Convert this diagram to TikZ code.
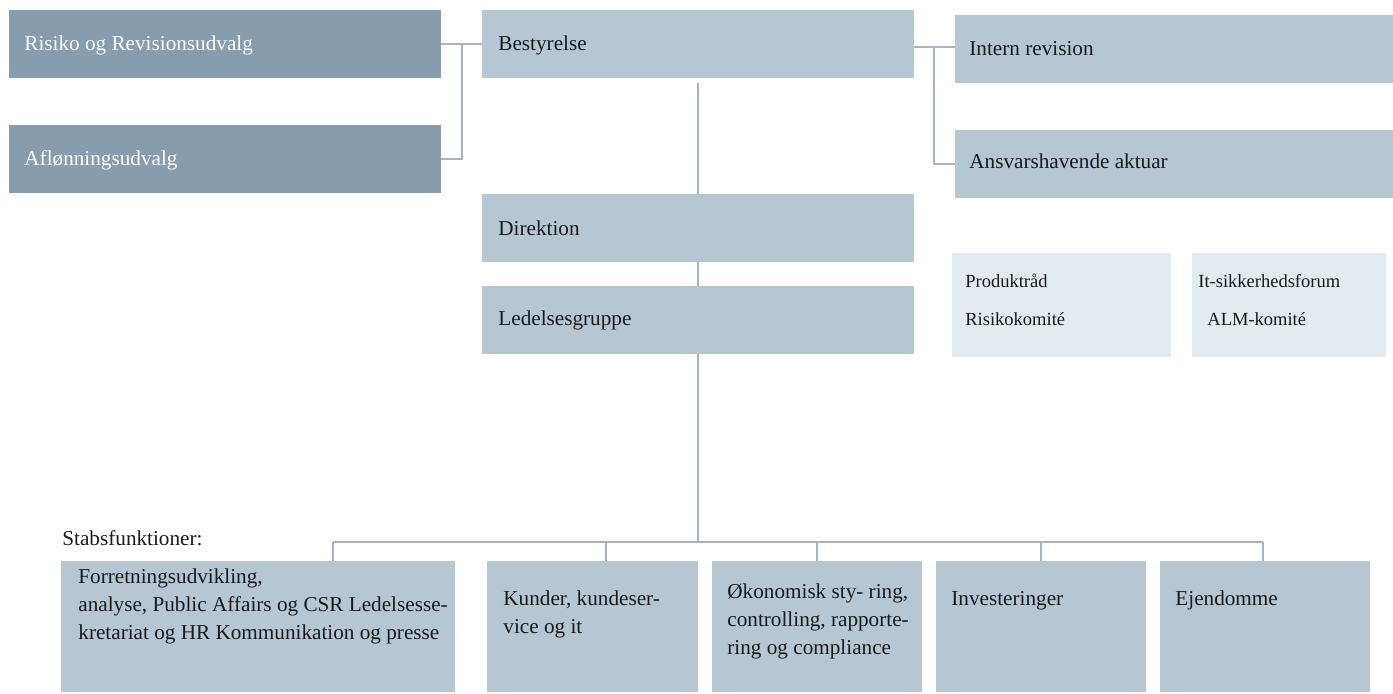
\documentclass[tikz,border=0pt]{standalone}
\usepackage{fontspec}
\setmainfont{Liberation Serif}
\definecolor{moerk}{HTML}{879CAD}
\definecolor{lys}{HTML}{B5C7D3}
\definecolor{bleg}{HTML}{E1EBF0}
\definecolor{streg}{HTML}{A3B5C5}
\tikzset{
  boks/.style={anchor=north west, inner sep=0pt, outer sep=0pt, fill=lys},
  moerkboks/.style={boks, fill=moerk},
  forum/.style={boks, fill=bleg},
  tekst/.style={anchor=base west, inner sep=0pt, align=left, text=black!90,
    font=\fontsize{10.6}{14}\selectfont},
  lille/.style={tekst, font=\fontsize{9.25}{11}\selectfont},
  linje/.style={draw=streg, line width=0.75pt},
}
\begin{document}
\begin{tikzpicture}[x=0.5pt, y=-0.5pt]
  \useasboundingbox (0,0) rectangle (1393,693);
  % udvalg
  \node[moerkboks, minimum width=216pt, minimum height=34pt] (risiko) at (9,10) {};
  \node[moerkboks, minimum width=216pt, minimum height=34pt] (aflon) at (9,125) {};
  \node[tekst, text=white] (trisiko) at (24,50) {Risiko og Revisionsudvalg};
  \node[tekst, text=white] (taflon) at (24,165) {Aflønningsudvalg};
  % midterste kolonne
  \node[boks, minimum width=216pt, minimum height=34pt] (bestyrelse) at (482,10) {};
  \node[boks, minimum width=216pt, minimum height=34pt] (direktion) at (482,194) {};
  \node[boks, minimum width=216pt, minimum height=34pt] (ledelse) at (482,286) {};
  \node[tekst] (tbestyrelse) at (498,50) {Bestyrelse};
  \node[tekst] (tdirektion) at (498,235) {Direktion};
  \node[tekst] (tledelse) at (498,325) {Ledelsesgruppe};
  % revision og aktuar
  \node[boks, minimum width=219pt, minimum height=34pt] (intern) at (955,15) {};
  \node[boks, minimum width=219pt, minimum height=34pt] (ansvar) at (955,130) {};
  \node[tekst] (tintern) at (969,55) {Intern revision};
  \node[tekst] (tansvar) at (969,168) {Ansvarshavende aktuar};
  % fora og komiteer
  \node[forum, minimum width=109.5pt, minimum height=52pt] (forumA) at (952,253) {};
  \node[forum, minimum width=97pt, minimum height=52pt] (forumB) at (1192,253) {};
  \node[lille] (tprodukt) at (965,287) {Produktråd};
  \node[lille] (trisikokomite) at (965,325) {Risikokomité};
  \node[lille] (titsik) at (1198,287) {It-sikkerhedsforum};
  \node[lille] (talm) at (1207,325) {ALM-komité};
  % stabsfunktioner (base = sidste linje)
  \node[tekst] (tstabs) at (62,545) {Stabsfunktioner:};
  \node[boks, minimum width=197pt, minimum height=65.5pt] (stab1) at (61,561) {};
  \node[boks, minimum width=105.5pt, minimum height=65.5pt] (stab2) at (487,561) {};
  \node[boks, minimum width=105pt, minimum height=65.5pt] (stab3) at (712,561) {};
  \node[boks, minimum width=105pt, minimum height=65.5pt] (stab4) at (936,561) {};
  \node[boks, minimum width=105pt, minimum height=65.5pt] (stab5) at (1160,561) {};
  \node[tekst] (tstab1) at (78,639) {Forretningsudvikling,\\analyse, Public Affairs og CSR Ledelsesse-\\kretariat og HR Kommunikation og presse};
  \node[tekst] (tstab2) at (503,633) {Kunder, kundeser-\\vice og it};
  \node[tekst] (tstab3) at (727,654) {Økonomisk sty- ring,\\controlling, rapporte-\\ring og compliance};
  \node[tekst] (tstab4) at (951,605) {Investeringer};
  \node[tekst] (tstab5) at (1175,605) {Ejendomme};
  % forbindelser
  \coordinate (knV) at (462,44);
  \coordinate (knH) at (934,47);
  \coordinate (knL) at (698,542);
  \draw[linje] (risiko.east) -- (bestyrelse.west);
  \draw[linje] (knV) |- (aflon.east);
  \draw[linje] (bestyrelse.east |- knH) -- (intern.west |- knH);
  \draw[linje] (knH) |- (ansvar.west);
  \draw[linje] ([yshift=-2.5pt]bestyrelse.south) -- (direktion.north);
  \draw[linje] (direktion.south) -- (ledelse.north);
  \draw[linje] (ledelse.south) -- (knL);
  \draw[linje] (333,542) -- (1263,542);
  \foreach \x/\n in {333/stab1, 606/stab2, 817/stab3, 1041/stab4, 1263/stab5}
    \draw[linje] (\x,542) -- (\x,542 |- \n.north);
\end{tikzpicture}
\end{document}
